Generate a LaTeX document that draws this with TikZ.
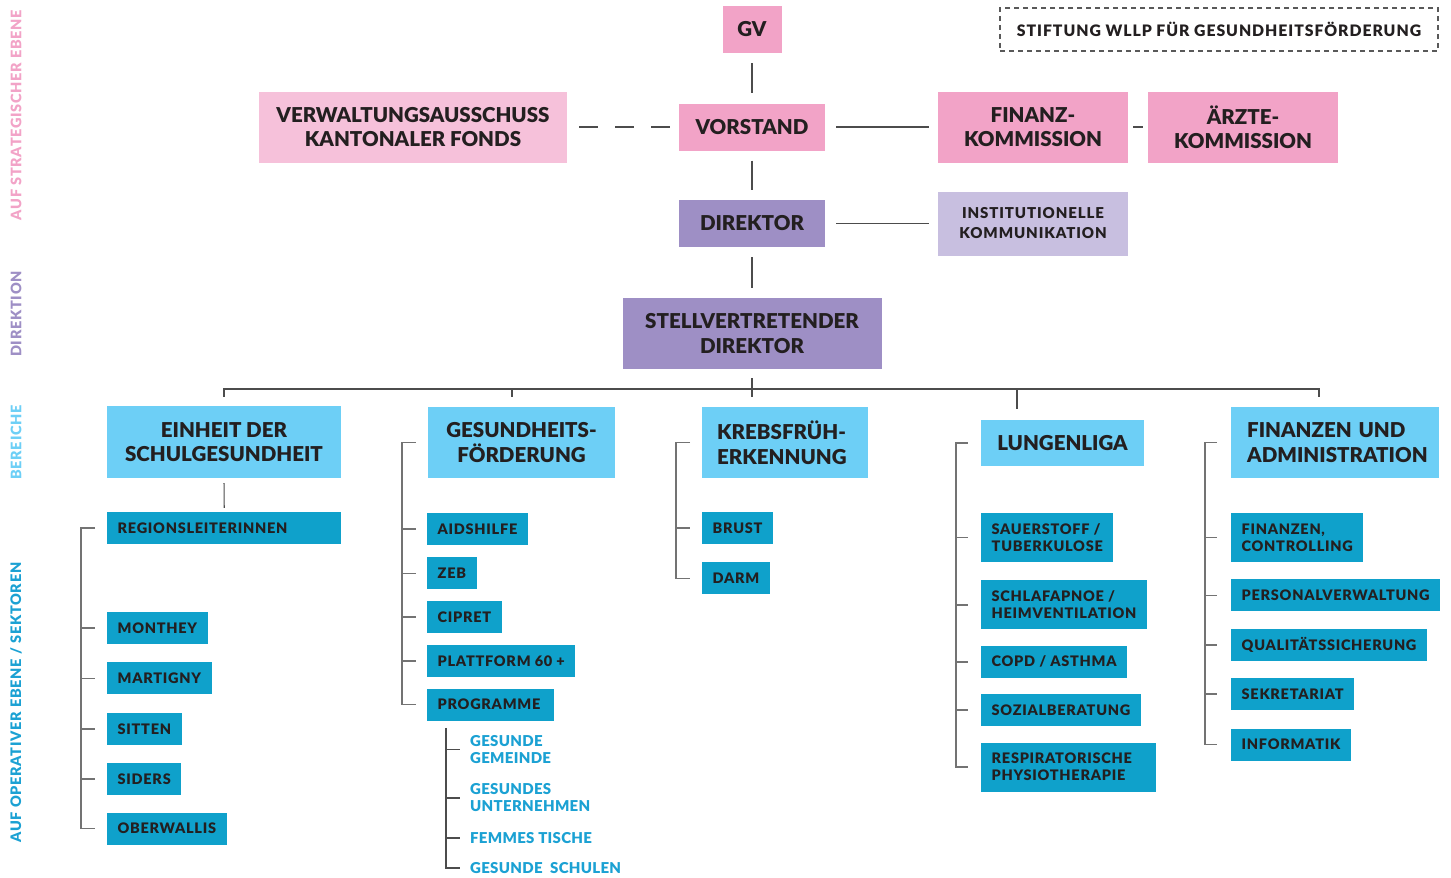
\documentclass[tikz,border=0pt]{standalone}
\usepackage{fontspec}
\setmainfont{Lato}[BoldFont={Lato Black}]
\usepackage{tikz}
\usetikzlibrary{positioning, calc}
\usepackage{xcolor}
\definecolor{pinkA}{HTML}{F2A3C7}
\definecolor{pinkB}{HTML}{F6C1DA}
\definecolor{purpA}{HTML}{9E8FC5}
\definecolor{purpB}{HTML}{C8BFE0}
\definecolor{blueA}{HTML}{6DCFF6}
\definecolor{blueB}{HTML}{0FA1CB}
\definecolor{blueC}{HTML}{1BA1D3}
\definecolor{ink}{HTML}{231F20}
\newcommand{\bigtxt}{\fontsize{20.5}{24.5}\selectfont\bfseries}
\newcommand{\medtxt}{\fontsize{15}{20}\selectfont\bfseries\addfontfeature{LetterSpace=6}}
\newcommand{\smalltxt}{\fontsize{14.5}{17}\selectfont\bfseries\addfontfeature{LetterSpace=5}}
\newcommand{\progtxt}{\fontsize{15}{17}\selectfont\bfseries\addfontfeature{LetterSpace=2}}
\tikzstyle{Box} = [inner sep=0pt, text=ink, align=center, font=\bigtxt]
\tikzstyle{Board} = [Box, fill=pinkA]
\tikzstyle{Direction} = [Box, fill=purpA]
\tikzstyle{Area} = [Box, fill=blueA]
\tikzstyle{Sector} = [fill=blueB, text=ink, font=\smalltxt, inner xsep=10.5pt,
inner ysep=0pt, minimum height=32pt, align=left, anchor=west]
\tikzstyle{Sector2} = [Sector, minimum height=49pt]
\tikzstyle{Program} = [text=blueC, font=\progtxt, inner sep=0pt, align=left, anchor=west]
\tikzstyle{Side} = [rotate=90, font=\smalltxt, inner sep=0pt]
\tikzstyle{Line} = [draw=black!70, line width=1.2pt]
\tikzstyle{Bracket} = [draw=black!55, line width=1.6pt]

\begin{document}
\begin{tikzpicture}[x=1pt, y=-1pt]
    \useasboundingbox (0,0) rectangle (1451,878);

    \node [Side, text=pinkA] (42) at (16,115) {AUF STRATEGISCHER EBENE};
    \node [Side, text=purpA] (43) at (16,314) {DIREKTION};
    \node [Side, text=blueA] (44) at (16,442.5) {BEREICHE};
    \node [Side, text=blueC] (45) at (16,702.5) {AUF OPERATIVER EBENE / SEKTOREN};

    \node [Board, minimum width=59pt, minimum height=47pt] (1) at (752,29.5) {GV};
    \node [Board, minimum width=146pt, minimum height=47pt] (2) at (752,127) {VORSTAND};
    \node [Box, fill=pinkB, minimum width=308pt, minimum height=71pt] (3) at (413,127)
        {VERWALTUNGSAUSSCHUSS\\KANTONALER FONDS};
    \node [Board, minimum width=190pt, minimum height=71pt] (4) at (1033,127) {FINANZ-\\KOMMISSION};
    \node [Board, minimum width=190pt, minimum height=71pt] (5) at (1243,127) {ÄRZTE-\\KOMMISSION};
    \node [draw=black!65, line width=1.3pt, dash pattern=on 5pt off 4pt, text=ink,
        font=\fontsize{15.8}{17}\selectfont\bfseries\addfontfeature{LetterSpace=6},
        minimum width=438pt, minimum height=43pt] (6) at (1219,29.5)
        {STIFTUNG WLLP FÜR GESUNDHEITSFÖRDERUNG};

    \node [Direction, minimum width=146pt, minimum height=47pt] (7) at (752,223.5) {DIREKTOR};
    \node [Box, fill=purpB, font=\medtxt, minimum width=190pt, minimum height=64pt] (8)
        at (1033,223.5) {INSTITUTIONELLE\\KOMMUNIKATION};
    \node [Direction, minimum width=259pt, minimum height=71pt] (9) at (752,333.5)
        {STELLVERTRETENDER\\DIREKTOR};

    \node [Area, minimum width=234pt, minimum height=72pt] (10) at (224,442) {EINHEIT DER\\SCHULGESUNDHEIT};
    \node [Area, minimum width=187pt, minimum height=71pt] (11) at (521.5,442.5) {GESUNDHEITS-\\FÖRDERUNG};
    \node [Area, anchor=west, align=left, inner xsep=15pt, text width=136pt,
        minimum height=71pt] (12) at (702,442.5) {KREBSFRÜH-\\ERKENNUNG};
    \node [Area, minimum width=163pt, minimum height=46pt] (13) at (1062.5,443) {LUNGENLIGA};
    \node [Area, anchor=west, align=left, inner xsep=16pt, text width=176pt,
        minimum height=71pt] (14) at (1231,442.5) {FINANZEN UND\\ADMINISTRATION};

    \node [Sector, text width=213pt] (15) at (107,528) {REGIONSLEITERINNEN};
    \node [Sector] (16) at (107,628) {MONTHEY};
    \node [Sector, below=18pt of 16.south west, anchor=north west] (17) {MARTIGNY};
    \node [Sector, below=18pt of 17.south west, anchor=north west] (18) {SITTEN};
    \node [Sector, below=18pt of 18.south west, anchor=north west] (19) {SIDERS};
    \node [Sector, below=17pt of 19.south west, anchor=north west] (20) {OBERWALLIS};

    \node [Sector] (21) at (427,529) {AIDSHILFE};
    \node [Sector, below=12pt of 21.south west, anchor=north west] (22) {ZEB};
    \node [Sector, below=11pt of 22.south west, anchor=north west] (23) {CIPRET};
    \node [Sector, below=12pt of 23.south west, anchor=north west] (24) {PLATTFORM 60 +};
    \node [Sector, text width=106pt, below=11pt of 24.south west, anchor=north west] (25) {PROGRAMME};

    \node [Program] (26) at (470,749.5) {GESUNDE\\GEMEINDE};
    \node [Program] (27) at (470,798) {GESUNDES\\UNTERNEHMEN};
    \node [Program] (28) at (470,838) {FEMMES TISCHE};
    \node [Program] (29) at (470,868) {GESUNDE~ SCHULEN};

    \node [Sector] (30) at (702,528) {BRUST};
    \node [Sector, below=18pt of 30.south west, anchor=north west] (31) {DARM};

    \node [Sector2] (32) at (981,537.5) {SAUERSTOFF /\\TUBERKULOSE};
    \node [Sector2, below=18pt of 32.south west, anchor=north west] (33) {SCHLAFAPNOE /\\HEIMVENTILATION};
    \node [Sector, below=16pt of 33.south west, anchor=north west] (34) {COPD / ASTHMA};
    \node [Sector, below=16pt of 34.south west, anchor=north west] (35) {SOZIALBERATUNG};
    \node [Sector2, text width=154pt, below=16pt of 35.south west, anchor=north west] (36)
        {RESPIRATORISCHE\\PHYSIOTHERAPIE};

    \node [Sector2] (37) at (1231,537.5) {FINANZEN,\\CONTROLLING};
    \node [Sector, below=17pt of 37.south west, anchor=north west] (38) {PERSONALVERWALTUNG};
    \node [Sector, below=17pt of 38.south west, anchor=north west] (39) {QUALITÄTSSICHERUNG};
    \node [Sector, below=17pt of 39.south west, anchor=north west] (40) {SEKRETARIAT};
    \node [Sector, below=18pt of 40.south west, anchor=north west] (41) {INFORMATIK};

    \draw[Line, shorten <=10pt, shorten >=10pt] (1) -- (2);
    \draw[Line, dash pattern=on 19pt off 17pt, shorten <=9pt, shorten >=11pt] (2) -- (3);
    \draw[Line, shorten <=11pt, shorten >=9pt] (2) -- (4);
    \draw[Line, shorten <=5pt, shorten >=5pt] (4) -- (5);
    \draw[Line, shorten <=10pt, shorten >=10pt] (2) -- (7);
    \draw[Line, shorten <=11pt, shorten >=9pt] (7) -- (8);
    \draw[Line, shorten <=10pt, shorten >=10pt] (7) -- (9);

    \draw[Line] ($(9.south)+(0,9)$) -- (752,397);
    \draw[Line] ($(10.north)+(0,-9)$) |- (1319,389) -- (1319,397);
    \foreach \x/\y in {512/397, 1017/409}
        \draw[Line] (\x,389) -- (\x,\y);
    \draw[Line, shorten <=5pt, shorten >=4pt] (10) -- (15);

    \draw[Bracket] ($(15.west)+(-12,0)$) -| ($(20.west)+(-26,0)$) -- ++(14,0);
    \foreach \n in {16,...,19}
        \draw[Bracket] (\n.west) ++(-26,0) -- ++(14,0);
    \draw[Bracket] ($(11.west)+(-12,0)$) -| ($(25.west)+(-25,0)$) -- ++(14,0);
    \foreach \n in {21,...,24}
        \draw[Bracket] (\n.west) ++(-25,0) -- ++(14,0);
    \draw[Line] ($(25.south west)+(19,7)$) |- ($(29.west)+(-10,0)$);
    \foreach \n in {26,27,28}
        \draw[Line] (\n.west) ++(-24,0) -- ++(14,0);
    \draw[Bracket] ($(12.west)+(-12,0)$) -| ($(31.west)+(-26,0)$) -- ++(14,0);
    \draw[Bracket] (30.west) ++(-26,0) -- ++(14,0);
    \draw[Bracket] ($(13.west)+(-13,0)$) -| ($(36.west)+(-25,0)$) -- ++(12,0);
    \foreach \n in {32,...,35}
        \draw[Bracket] (\n.west) ++(-25,0) -- ++(12,0);
    \draw[Bracket] ($(14.west)+(-14,0)$) -| ($(41.west)+(-26,0)$) -- ++(12,0);
    \foreach \n in {37,...,40}
        \draw[Bracket] (\n.west) ++(-26,0) -- ++(12,0);
\end{tikzpicture}
\end{document}
